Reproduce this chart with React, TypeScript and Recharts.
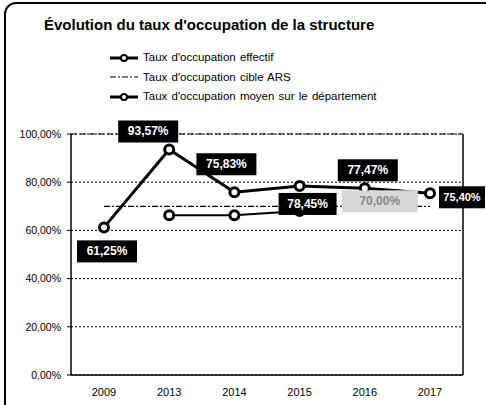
import React from "react";
import {
  LineChart,
  Line,
  XAxis,
  YAxis,
  CartesianGrid,
  ReferenceLine,
  LabelList,
  Legend,
} from "recharts";

const years = ["2009", "2013", "2014", "2015", "2016", "2017"];
const effectif = [61.25, 93.57, 75.83, 78.45, 77.47, 75.4];
const cible = [70, 70, 70, 70, 70, 70];
const moyenDep = [null, 66.25, 66.25, 68.0, null, null];
const yTicks = [0, 20, 40, 60, 80, 100];

const seriesNames = [
  "Taux d'occupation effectif",
  "Taux d'occupation cible ARS",
  "Taux d'occupation moyen sur le département",
];

const data = years.map((y, i) => ({
  year: y,
  effectif: effectif[i],
  cible: cible[i],
  moyen: moyenDep[i],
}));

// label box placement relative to the point: [dx, dy, box width]
type Place = [number, number, number] | null;
const effectifLabelPos: Place[] = [
  [3, 24, 60],
  [-21, -18, 60],
  [-8, -28, 60],
  [8, 18, 58],
  [3, -18, 60],
  [32, 4, 46],
];
const cibleLabelPos: Place[] = [null, null, null, null, [15, -5, 76], null];

const FONT = "'Liberation Sans', Arial, sans-serif";
const pct = (v: number) => v.toFixed(2).replace(".", ",") + "%";

const boxLabel =
  (pos: Place[], fill: string, color: string) =>
  (props: any) => {
    const { x, y, value, index } = props;
    const o = pos[index];
    if (!o || value == null) return null;
    const cx = x + o[0];
    const cy = y + o[1];
    const w = o[2];
    return (
      <g>
        <rect x={cx - w / 2} y={cy - 11} width={w} height={22} fill={fill} />
        <text
          x={cx}
          y={cy + 4}
          textAnchor="middle"
          fill={color}
          fontSize={w < 50 ? 11 : 12}
          fontWeight="bold"
          fontFamily={FONT}
        >
          {pct(value)}
        </text>
      </g>
    );
  };

const Marker = (props: any) => {
  const { cx, cy, value } = props;
  if (value == null || cx == null) return null;
  return <circle cx={cx} cy={cy} r={4.5} fill="#fff" stroke="#000" strokeWidth={3} />;
};

const LegendBox = () => (
  <div style={{ fontFamily: FONT, fontSize: 11.5, color: "#000", lineHeight: "19.5px", wordSpacing: 1 }}>
    {seriesNames.map((name, i) => (
      <div key={name} style={{ display: "flex", alignItems: "center", whiteSpace: "nowrap" }}>
        <svg width={30} height={10} style={{ marginRight: 3 }}>
          {i === 1 ? (
            <line x1={0} y1={5} x2={28} y2={5} stroke="#000" strokeWidth={1.2} strokeDasharray="6 2 2 2" />
          ) : (
            <>
              <line x1={0} y1={5} x2={28} y2={5} stroke="#000" strokeWidth={3} />
              <circle cx={14} cy={5} r={3} fill="#fff" stroke="#000" strokeWidth={2} />
            </>
          )}
        </svg>
        <span>{name}</span>
      </div>
    ))}
  </div>
);

export default function App() {
  return (
    <div style={{ position: "relative", width: 486, height: 405, overflow: "hidden", background: "#fff" }}>
      <style>{"body{margin:0}"}</style>
      <div
        style={{
          position: "absolute",
          left: 4,
          top: 2,
          width: 520,
          height: 440,
          border: "2px solid #000",
          borderRadius: 12,
        }}
      />
      <div
        style={{
          position: "absolute",
          left: 44,
          top: 16,
          fontFamily: FONT,
          fontSize: 15,
          fontWeight: "bold",
          lineHeight: "18px",
          whiteSpace: "nowrap",
        }}
      >
        Évolution du taux d'occupation de la structure
      </div>
      <div style={{ position: "absolute", left: 0, top: 0 }}>
        <LineChart width={486} height={405} data={data} margin={{ top: 134, right: 22, bottom: 5, left: 10 }}>
          <Legend
            layout="horizontal"
            verticalAlign="middle"
            align="center"
            content={<LegendBox />}
            wrapperStyle={{ position: "absolute", top: 48, left: 110, width: "auto" }}
          />
          <CartesianGrid vertical={false} stroke="#000" strokeDasharray="2 2" />
          <XAxis
            dataKey="year"
            padding={{ left: 33, right: 33 }}
            height={25}
            tickLine={false}
            tickMargin={7}
            axisLine={{ stroke: "#000", strokeWidth: 1.5 }}
            tick={{ fill: "#000", fontSize: 11, fontFamily: FONT }}
          />
          <YAxis
            width={61}
            domain={[0, 100]}
            ticks={yTicks}
            tickFormatter={pct}
            tickSize={4}
            tickMargin={6}
            tickLine={{ stroke: "#000" }}
            axisLine={{ stroke: "#000", strokeWidth: 1.5 }}
            tick={{ fill: "#000", fontSize: 10.5, fontFamily: FONT }}
          />
          <YAxis
            yAxisId="r"
            orientation="right"
            width={1}
            tick={false}
            tickLine={false}
            axisLine={{ stroke: "#000", strokeWidth: 1.5 }}
          />
          <ReferenceLine y={100} stroke="#000" strokeDasharray="6 3" />
          <Line
            dataKey="cible"
            stroke="#000"
            strokeWidth={1.2}
            strokeDasharray="6 2 2 2"
            dot={false}
            isAnimationActive={false}
          >
            <LabelList dataKey="cible" content={boxLabel(cibleLabelPos, "#d8d8d8", "#888")} />
          </Line>
          <Line
            dataKey="moyen"
            stroke="#000"
            strokeWidth={2}
            dot={<Marker />}
            connectNulls={false}
            isAnimationActive={false}
          />
          <Line
            dataKey="effectif"
            stroke="#000"
            strokeWidth={3}
            dot={<Marker />}
            isAnimationActive={false}
          >
            <LabelList dataKey="effectif" content={boxLabel(effectifLabelPos, "#000", "#fff")} />
          </Line>
        </LineChart>
      </div>
    </div>
  );
}
